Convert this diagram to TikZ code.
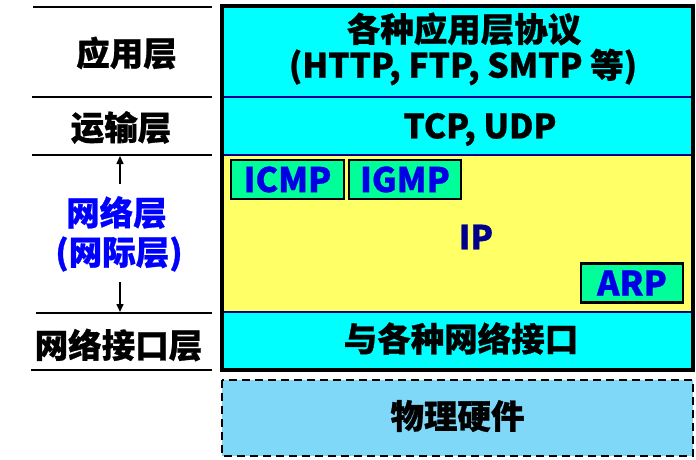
\documentclass[tikz,border=0pt]{standalone}
\usepackage{fontspec}
\setmainfont{Noto Sans CJK SC}[BoldFeatures={FakeBold=0.8}]
\usetikzlibrary{arrows.meta}
\definecolor{cyanL}{RGB}{0,255,255}
\definecolor{yel}{RGB}{255,255,102}
\definecolor{grn}{RGB}{0,255,153}
\definecolor{phys}{RGB}{128,216,248}
\definecolor{navy}{RGB}{0,0,140}
\definecolor{protoblue}{RGB}{0,0,230}
\definecolor{netblue}{RGB}{0,0,255}
\tikzset{
  lbl/.style={font=\fontsize{33.5}{38}\selectfont\bfseries, inner sep=0pt},
  proto/.style={draw=black, line width=2.5pt, fill=grn, minimum height=39pt, inner sep=0pt,
    text=protoblue, font=\fontsize{34}{38}\selectfont\bfseries},
  sepline/.style={line width=2pt, black},
  divline/.style={line width=2pt, navy},
}
\begin{document}
\begin{tikzpicture}[x=1pt,y=-1pt]
\useasboundingbox (0,0) rectangle (696,459);
% layer fills
\fill[cyanL] (222,6) rectangle (693,97);
\fill[cyanL] (222,97) rectangle (693,155);
\fill[yel] (222,155) rectangle (693,312);
\fill[cyanL] (222,312) rectangle (693,370);
\draw[divline] (222,97) -- (693,97);
\draw[divline] (222,155) -- (693,155);
\draw[divline] (222,312) -- (693,312);
\draw[line width=3.5pt, black] (222,6) rectangle (693,370);
% physical
\draw[line width=2.5pt, black, fill=phys, dash pattern=on 8pt off 5pt] (222,380) rectangle (693,456);
% left separators
\draw[sepline] (33,7) -- (212,7);
\draw[sepline] (32,97) -- (212,97);
\draw[sepline] (32,155) -- (212,155);
\draw[sepline] (36,313) -- (212,313);
\draw[sepline] (31,370) -- (212,370);
% left labels
\node[lbl] (app) at (126.5,53) {应用层};
\node[lbl] (trn) at (121,127.5) {运输层};
\node[lbl, text=netblue] (net) at (116.5,212.5) {网络层};
\node[lbl, text=netblue] (net2) at (119,254) {(网际层)};
\node[lbl] (nif) at (118.5,345) {网络接口层};
\coordinate (upend) at (120,156);
\coordinate (downend) at (120,312);
\draw[line width=1.5pt, -{Triangle[length=8pt,width=7pt]}] (120,184) -- (upend);
\draw[line width=1.5pt, -{Triangle[length=8pt,width=7pt]}] (120,282) -- (downend);
% right labels
\node[lbl] (apptxt) at (464,29) {各种应用层协议};
\node[lbl] (apptxt2) at (463,67) {(HTTP, FTP, SMTP 等)};
\node[lbl] (tcp) at (480,129.5) {TCP, UDP};
\node[lbl, text=navy, font=\fontsize{33}{36}\selectfont\bfseries] (ip) at (476,237) {IP};
\node[lbl] (nifr) at (461,338.5) {与各种网络接口};
\node[lbl] (phy) at (457.5,416) {物理硬件};
% protocol boxes
\node[proto, minimum width=113pt] (icmp) at (287.5,179.5) {ICMP};
\node[proto, minimum width=112pt] (igmp) at (405,179.5) {IGMP};
\node[proto, minimum width=102pt] (arp) at (632,283) {ARP};
\end{tikzpicture}
\end{document}
